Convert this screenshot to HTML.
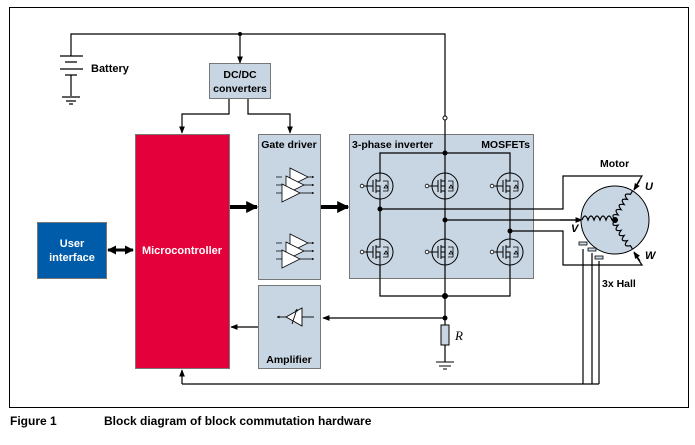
<!DOCTYPE html>
<html><head><meta charset="utf-8"><style>
body{margin:0;background:#fff;}
svg{display:block;font-family:"Liberation Sans",sans-serif;}
</style></head><body>
<svg width="695" height="445" viewBox="0 0 695 445" xmlns="http://www.w3.org/2000/svg">
<defs>
<marker id="a" viewBox="0 0 10 10" refX="9" refY="5" markerWidth="6" markerHeight="6" orient="auto-start-reverse"><path d="M0,1 L10,5 L0,9z" fill="#000"/></marker>
<marker id="t" viewBox="0 0 10 10" refX="9" refY="5" markerWidth="3" markerHeight="3" orient="auto-start-reverse"><path d="M0,0 L10,5 L0,10z" fill="#000"/></marker>
<g id="fet"><circle cx="0" cy="0" r="13" fill="none" stroke="#000" stroke-width="1"/>
<circle cx="-18" cy="0" r="1.8" fill="#fff" stroke="#000" stroke-width="0.8"/>
<path d="M-16,0 H-7 M-7,-6 V6 M-4,-7 V7 M-4,-5 H0 V-13 M-4,5 H0 V13 M-4,0 H0 V5" fill="none" stroke="#000" stroke-width="1"/>
<path d="M3,-5 H8 V5 H3 M6,-1 L4,2 H8z" fill="none" stroke="#000" stroke-width="0.8"/></g>
<g id="amp3" fill="#fff" stroke="#000" stroke-width="0.8">
<path d="M-6,3 H0 M-6,11 H0 M-6,19 H0" fill="none"/>
<polygon points="8,-6 26,3 8,12"/><path d="M26,3 H32" marker-end="url(#t)"/>
<polygon points="4,2 22,11 4,20"/><path d="M22,11 H32" marker-end="url(#t)"/>
<polygon points="0,10 18,19 0,28"/><path d="M18,19 H32" marker-end="url(#t)"/></g>
<path id="coil" d="M0,0 q3,-8 6,0 q3,-8 6,0 q3,-8 6,0 q3,-8 6,0 q3,-8 6,0 L34,0" fill="none" stroke="#000" stroke-width="1.2"/>
</defs>
<rect x="9.5" y="7.5" width="679" height="400" fill="none" stroke="#000" stroke-width="1"/>
<!-- battery -->
<path d="M71,56 V34 H445 V116" fill="none" stroke="#000" stroke-width="1.2"/>
<circle cx="240" cy="34" r="2" fill="#000"/>
<circle cx="445" cy="118" r="2" fill="#fff" stroke="#000"/>
<path d="M60,56 H83 M65,62 H77 M60,69 H83 M65,75 H77 M71,75 V96 M62,97 H80 M66,101 H76 M69,104 H73" stroke="#000" stroke-width="1.2"/>
<text x="91" y="72" font-size="11" font-weight="bold">Battery</text>
<path d="M240,34 V63" stroke="#000" stroke-width="1.2" marker-end="url(#a)"/>
<rect x="209.5" y="63.5" width="61" height="35" fill="#c8d6e4" stroke="#777"/>
<text x="240" y="78" font-size="10.5" font-weight="bold" text-anchor="middle">DC/DC</text>
<text x="240" y="92" font-size="10.5" font-weight="bold" text-anchor="middle">converters</text>
<path d="M229,99 V114 H182 V133" fill="none" stroke="#000" stroke-width="1.2" marker-end="url(#a)"/>
<path d="M248,99 V114 H290 V133" fill="none" stroke="#000" stroke-width="1.2" marker-end="url(#a)"/>
<!-- micro -->
<rect x="135.5" y="134.5" width="94" height="234" fill="#e4003a" stroke="#777"/>
<text x="182" y="254" font-size="11" font-weight="bold" fill="#fff" text-anchor="middle">Microcontroller</text>
<rect x="37.5" y="222.5" width="69" height="56" fill="#005ca9" stroke="#777"/>
<text x="72" y="247" font-size="11" font-weight="bold" fill="#fff" text-anchor="middle">User</text>
<text x="72" y="261" font-size="11" font-weight="bold" fill="#fff" text-anchor="middle">interface</text>
<path d="M108,250 H133" stroke="#000" stroke-width="3" marker-start="url(#t)" marker-end="url(#t)"/>
<!-- gate driver -->
<rect x="258.5" y="134.5" width="62" height="145" fill="#c8d6e4" stroke="#777"/>
<text x="289" y="148" font-size="10.5" font-weight="bold" text-anchor="middle">Gate driver</text>
<use href="#amp3" x="282" y="174"/>
<use href="#amp3" x="282" y="240"/>
<path d="M230,207 H257" stroke="#000" stroke-width="4" marker-end="url(#t)"/>
<path d="M321,207 H348" stroke="#000" stroke-width="4" marker-end="url(#t)"/>
<!-- amplifier -->
<rect x="258.5" y="285.5" width="62" height="83" fill="#c8d6e4" stroke="#777"/>
<text x="289" y="363" font-size="10.5" font-weight="bold" text-anchor="middle">Amplifier</text>
<polygon points="302,308 302,326 286,317" fill="#fff" stroke="#000" stroke-width="0.9"/>
<path d="M302,317 H314" stroke="#000" stroke-width="0.9"/>
<path d="M286,317 H277" stroke="#000" marker-end="url(#t)" stroke-width="0.9"/>
<path d="M292,324 L297,309" stroke="#000" stroke-width="0.9" marker-end="url(#t)"/>
<path d="M258,327 H231" stroke="#000" stroke-width="1.2" marker-end="url(#a)"/>
<!-- inverter -->
<rect x="349.5" y="134.5" width="184" height="144" fill="#c8d6e4" stroke="#777"/>
<text x="352" y="148" font-size="10.5" font-weight="bold">3-phase inverter</text>
<text x="530" y="148" font-size="10.5" font-weight="bold" text-anchor="end">MOSFETs</text>
<g fill="none" stroke="#000" stroke-width="1.2">
<path d="M445,120 V296 M380,173 V153 H510 V173 M380,199 V239 M510,199 V239 M380,265 V296 H510 V265"/>
<path d="M380,209 H563 V176 H642 L634,189"/>
<path d="M445,220 H580"/>
<path d="M510,231 H563 V265 H642 L634,253"/>
<path d="M445,296 V325 M445,345 V362"/>
<path d="M182,384 H599 M583,384 V249 M592,384 V253 M599,384 V261"/>
</g>
<path d="M445,318 H323" stroke="#000" stroke-width="1.2" marker-end="url(#a)"/>
<path d="M182,384 V370" stroke="#000" stroke-width="1.2" marker-end="url(#a)"/>
<path d="M560,220 H582" stroke="#000" stroke-width="1.2" marker-end="url(#a)"/>
<path d="M640,180 L634,190" stroke="#000" stroke-width="1.2" marker-end="url(#a)"/>
<path d="M640,261 L634,252" stroke="#000" stroke-width="1.2" marker-end="url(#a)"/>
<g fill="#000"><circle cx="445" cy="153" r="2.5"/><circle cx="380" cy="209" r="2.5"/><circle cx="445" cy="220" r="2.5"/><circle cx="510" cy="231" r="2.5"/><circle cx="445" cy="296" r="3"/><circle cx="445" cy="318" r="2.5"/></g>
<use href="#fet" x="380" y="186"/><use href="#fet" x="445" y="186"/><use href="#fet" x="510" y="186"/>
<use href="#fet" x="380" y="252"/><use href="#fet" x="445" y="252"/><use href="#fet" x="510" y="252"/>
<!-- shunt -->
<rect x="441" y="325" width="8" height="20" fill="#c8d6e4" stroke="#000"/>
<text x="455" y="340" font-size="13" font-style="italic" font-family="Liberation Serif,serif">R</text>
<path d="M436,362 H454 M439,366 H451 M443,369 H447" stroke="#000" stroke-width="1"/>
<!-- motor -->
<text x="600" y="167" font-size="10.5" font-weight="bold">Motor</text>
<circle cx="615" cy="220" r="34" fill="#c8d6e4" stroke="#000" stroke-width="1"/>
<use href="#coil" transform="translate(582,220)"/>
<use href="#coil" transform="translate(615,220) rotate(-59)"/>
<use href="#coil" transform="translate(615,220) rotate(59) scale(1,-1)"/>
<circle cx="615" cy="220" r="3" fill="#000"/>
<text x="645" y="190" font-size="11" font-weight="bold" font-style="italic">U</text>
<text x="571" y="232" font-size="11" font-weight="bold" font-style="italic">V</text>
<text x="645" y="259" font-size="11" font-weight="bold" font-style="italic">W</text>
<rect x="579" y="242" width="8" height="3" fill="#c8d6e4" stroke="#000" stroke-width="0.8"/>
<rect x="588" y="248" width="8" height="3" fill="#c8d6e4" stroke="#000" stroke-width="0.8"/>
<rect x="595" y="256" width="8" height="3" fill="#c8d6e4" stroke="#000" stroke-width="0.8"/>
<text x="602" y="287" font-size="10.5" font-weight="bold">3x Hall</text>
<text x="10" y="425" font-size="12" font-weight="bold">Figure 1</text>
<text x="104" y="425" font-size="12" font-weight="bold">Block diagram of block commutation hardware</text>
</svg>
</body></html>
